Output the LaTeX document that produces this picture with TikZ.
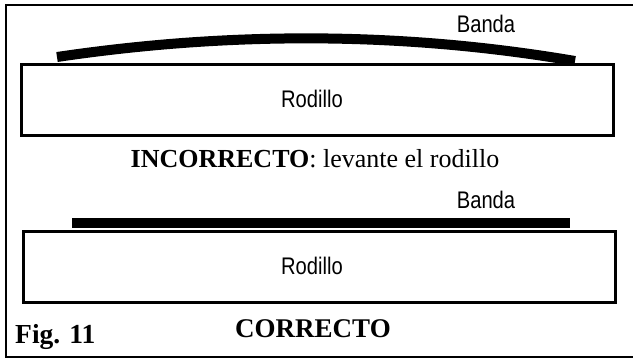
\documentclass[tikz,border=0pt]{standalone}
\usepackage{fontspec}
\setmainfont{Liberation Serif}
\newfontfamily\rotulo{Liberation Sans}[FakeStretch=0.84]
\begin{document}
\begin{tikzpicture}[x=1pt, y=-1pt,
    rodillo/.style={draw, line width=3pt, minimum width=592pt, minimum height=71pt,
        inner sep=0pt},
    etiqueta/.style={anchor=base, inner sep=0pt, font=\rotulo\fontsize{24}{26}\selectfont},
    titulo/.style={anchor=base, inner sep=0pt, font=\fontsize{26}{28}\selectfont}]
    \useasboundingbox (0,0) rectangle (633,360);
    \draw[line width=2.7pt] (6,5) rectangle (636,357);

    % Caso incorrecto
    \node[rodillo] (rodilloA) at (317,99.5) {};
    \node[etiqueta] (textoA) at (312,107) {Rodillo};
    \draw[line width=10pt] (57,57) .. controls (229,31.5) and (402,31.5) .. (575,61);
    \node[etiqueta] (bandaA) at (486,32) {Banda};
    \node[titulo] (incorrecto) at (315,167) {\textbf{INCORRECTO}: levante el rodillo};

    % Caso correcto
    \node[rodillo] (rodilloB) at (319,267) {};
    \node[etiqueta] (textoB) at (312,274) {Rodillo};
    \fill (72,218) rectangle (570,228);
    \node[etiqueta] (bandaB) at (486,208) {Banda};
    \node[titulo, font=\bfseries\fontsize{27}{28}\selectfont] (correcto) at (313,337) {CORRECTO};

    \node[titulo, anchor=base west, font=\bfseries\fontsize{27.5}{28}\selectfont] (figura) at (15,343) {Fig. 11};
\end{tikzpicture}
\end{document}
